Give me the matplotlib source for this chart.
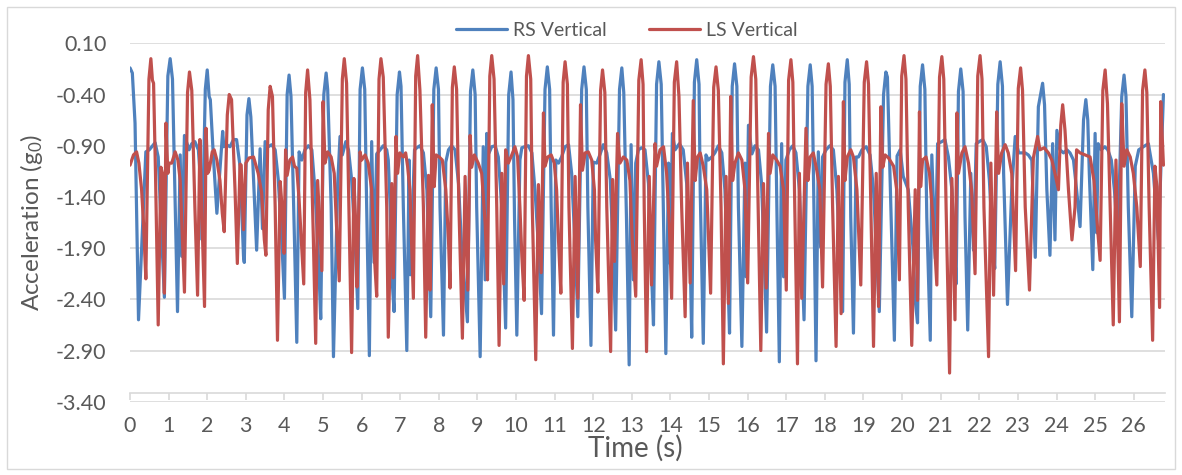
import matplotlib

matplotlib.use("Agg")
import matplotlib.pyplot as plt
from matplotlib.patches import Rectangle
from matplotlib.ticker import FixedLocator, FuncFormatter

plt.rcParams["font.family"] = ["Lato", "DejaVu Sans"]
plt.rcParams["mathtext.default"] = "regular"
plt.rcParams["axes.unicode_minus"] = False

# turning points, one line per stride (time s, acceleration g0)
rs_time = [
    0.00, 0.06, 0.13, 0.22, 0.41, 0.50, 0.65, 0.73, 0.89,
    0.98, 1.04, 1.10, 1.23, 1.30, 1.34, 1.41, 1.47, 1.53, 1.60, 1.68, 1.77, 1.84, 1.87,
    1.95, 2.00, 2.05, 2.08, 2.16, 2.25, 2.40, 2.43, 2.50, 2.59, 2.68, 2.76, 2.85, 2.94, 2.96,
    3.03, 3.08, 3.13, 3.28, 3.37, 3.43, 3.50, 3.58, 3.67, 3.76, 3.84, 3.93, 4.00,
    4.07, 4.12, 4.17, 4.26, 4.32, 4.38, 4.45, 4.53, 4.62, 4.71, 4.79, 4.88, 4.94,
    5.02, 5.08, 5.12, 5.21, 5.27, 5.38, 5.44, 5.50, 5.59, 5.66, 5.74, 5.83, 5.90,
    5.96, 6.02, 6.08, 6.13, 6.20, 6.26, 6.32, 6.39, 6.48, 6.56, 6.65, 6.69, 6.74, 6.78, 6.84,
    6.92, 6.98, 7.02, 7.08, 7.17, 7.23, 7.26, 7.37, 7.43, 7.51, 7.60, 7.69, 7.73, 7.79,
    7.87, 7.93, 7.99, 8.03, 8.12, 8.18, 8.25, 8.33, 8.42, 8.51, 8.59, 8.74,
    8.82, 8.88, 8.94, 8.98, 9.07, 9.15, 9.20, 9.24, 9.30, 9.37, 9.46, 9.54, 9.63, 9.73,
    9.81, 9.87, 9.92, 9.96, 10.02, 10.10, 10.15, 10.22, 10.32, 10.41, 10.49, 10.58, 10.66,
    10.75, 10.81, 10.87, 10.91, 10.97, 11.03, 11.10, 11.18, 11.27, 11.36, 11.44, 11.53, 11.60,
    11.70, 11.76, 11.82, 11.86, 11.94, 12.00, 12.09, 12.18, 12.26, 12.35, 12.44, 12.52, 12.58,
    12.68, 12.74, 12.79, 12.86, 12.93, 12.98, 13.04, 13.10, 13.17, 13.25, 13.34, 13.43, 13.51, 13.56,
    13.64, 13.70, 13.76, 13.80, 13.88, 13.95, 13.99, 14.05, 14.12, 14.23, 14.33, 14.42, 14.51, 14.55,
    14.62, 14.68, 14.74, 14.77, 14.85, 14.92, 14.98, 15.07, 15.15, 15.24, 15.33, 15.41, 15.47, 15.53,
    15.60, 15.66, 15.72, 15.76, 15.85, 15.93, 15.96, 16.02, 16.11, 16.19, 16.28, 16.36, 16.42, 16.49,
    16.59, 16.65, 16.71, 16.76, 16.82, 16.88, 16.93, 16.99, 17.08, 17.17, 17.25, 17.34, 17.40, 17.46,
    17.56, 17.62, 17.67, 17.72, 17.77, 17.83, 17.89, 17.94, 18.03, 18.13, 18.22, 18.31, 18.39, 18.46,
    18.52, 18.58, 18.63, 18.67, 18.74, 18.81, 18.87, 18.96, 19.07, 19.17, 19.26, 19.34, 19.41,
    19.52, 19.58, 19.62, 19.71, 19.80, 19.87, 19.95, 20.03, 20.16, 20.28, 20.34, 20.40,
    20.47, 20.53, 20.59, 20.64, 20.73, 20.77, 20.86, 20.92, 21.03, 21.11, 21.20, 21.29, 21.37, 21.40,
    21.46, 21.52, 21.58, 21.63, 21.70, 21.78, 21.85, 21.92, 22.00, 22.09, 22.18, 22.26, 22.37, 22.40,
    22.48, 22.54, 22.60, 22.63, 22.73, 22.84, 22.93, 23.02, 23.10, 23.19, 23.27, 23.36, 23.45, 23.53,
    23.64, 23.69, 23.75, 23.83, 23.90, 23.96, 24.01, 24.09, 24.18, 24.27, 24.35, 24.44, 24.52, 24.61,
    24.70, 24.76, 24.81, 24.85, 24.94, 25.00, 25.04, 25.08, 25.16, 25.25, 25.33, 25.42, 25.50, 25.59,
    25.69, 25.75, 25.80, 25.86, 25.95, 26.04, 26.13, 26.25, 26.38, 26.51, 26.64, 26.77,
]
rs_accel = [
    -0.14, -0.19, -0.68, -2.60, -0.96, -0.94, -0.87, -1.01, -2.38,
    -0.22, -0.05, -0.25, -2.52, -0.99, -1.98, -0.80, -0.87, -0.94, -0.88, -0.86, -0.94, -1.30, -1.82,
    -0.35, -0.16, -0.42, -0.45, -1.01, -1.56, -0.76, -0.91, -0.89, -0.91, -0.84, -0.84, -1.10, -1.98, -2.04,
    -0.60, -0.44, -0.62, -1.92, -0.93, -1.71, -0.86, -0.91, -0.89, -0.94, -1.23, -1.82, -2.39,
    -0.40, -0.21, -0.42, -1.82, -2.82, -0.96, -1.04, -0.94, -0.90, -0.94, -1.33, -1.98, -2.59,
    -0.40, -0.19, -0.35, -1.49, -2.96, -1.27, -0.81, -0.99, -0.86, -0.94, -1.23, -1.82, -2.49,
    -0.35, -0.14, -0.35, -1.49, -2.95, -0.86, -2.04, -0.98, -0.94, -0.90, -0.94, -1.04, -1.50, -2.15, -2.52,
    -0.40, -0.18, -0.32, -1.50, -2.90, -1.04, -2.16, -0.94, -0.92, -0.90, -0.97, -1.33, -1.82, -2.57,
    -0.35, -0.14, -0.35, -1.50, -2.75, -1.06, -0.94, -0.90, -0.94, -1.27, -1.89, -2.62,
    -0.37, -0.16, -0.40, -1.50, -2.96, -0.91, -2.21, -0.78, -0.97, -0.91, -0.90, -1.01, -1.50, -2.68,
    -0.40, -0.18, -0.45, -1.60, -2.75, -1.04, -0.92, -0.91, -0.90, -0.97, -1.33, -1.89, -2.54,
    -0.35, -0.13, -0.35, -1.50, -2.75, -1.04, -1.07, -1.01, -0.91, -0.89, -1.17, -1.89, -2.57,
    -0.35, -0.13, -0.35, -1.50, -2.85, -1.06, -1.07, -0.98, -0.89, -0.97, -1.23, -1.98, -2.70,
    -0.35, -0.14, -0.38, -1.60, -3.04, -0.89, -2.21, -1.07, -0.94, -0.92, -0.94, -1.27, -2.15, -2.65,
    -0.30, -0.08, -0.30, -1.17, -2.93, -1.07, -2.05, -0.78, -0.94, -0.88, -0.94, -1.27, -1.98, -2.77,
    -0.28, -0.06, -0.30, -1.33, -2.83, -0.99, -1.04, -1.01, -0.97, -0.90, -0.97, -1.33, -1.98, -2.73,
    -0.32, -0.10, -0.32, -1.50, -2.86, -1.07, -2.18, -0.70, -0.98, -0.90, -0.94, -1.27, -1.89, -2.72,
    -0.32, -0.11, -0.32, -1.60, -3.01, -0.88, -2.18, -1.04, -0.94, -0.90, -0.97, -1.33, -1.98, -2.60,
    -0.32, -0.11, -0.32, -1.60, -3.00, -0.96, -1.89, -1.01, -0.94, -0.90, -0.94, -1.33, -1.98, -2.52,
    -0.28, -0.06, -0.30, -1.60, -2.73, -1.01, -1.01, -0.94, -0.91, -0.99, -1.33, -1.98, -2.52,
    -0.40, -0.18, -0.23, -1.50, -2.80, -1.00, -0.94, -1.20, -1.33, -1.89, -2.41, -2.63,
    -0.32, -0.11, -0.35, -1.60, -2.80, -0.99, -2.00, -0.88, -0.86, -0.84, -1.01, -1.33, -1.98, -2.25,
    -0.37, -0.15, -0.37, -1.60, -2.70, -1.17, -1.92, -0.88, -0.86, -0.84, -0.91, -1.23, -1.98, -2.10,
    -0.30, -0.08, -0.32, -1.17, -2.45, -1.33, -0.81, -0.97, -0.97, -0.97, -0.99, -1.04, -1.99, -0.52,
    -0.29, -0.50, -1.33, -1.97, -0.88, -1.82, -0.75, -0.94, -0.97, -0.94, -0.97, -1.04, -1.33, -1.69,
    -0.65, -0.45, -0.65, -1.17, -2.11, -0.78, -1.75, -0.88, -0.94, -0.91, -0.94, -1.04, -1.33, -1.82,
    -0.42, -0.21, -0.42, -1.50, -2.57, -1.10, -0.94, -0.91, -0.88, -1.17, -1.82, -0.40,
]

ls_time = [
    0.00, 0.09, 0.17, 0.23, 0.30, 0.35, 0.41,
    0.49, 0.54, 0.58, 0.61, 0.66, 0.73, 0.80, 0.84, 0.89, 0.93, 0.98, 1.01, 1.08, 1.17, 1.24, 1.30, 1.36, 1.41,
    1.49, 1.54, 1.60, 1.68, 1.75, 1.81, 1.84, 1.93, 1.97, 2.01, 2.05, 2.13, 2.18, 2.25, 2.33, 2.39, 2.44,
    2.52, 2.57, 2.63, 2.72, 2.78, 2.85, 2.88, 2.94, 3.00, 3.08, 3.20, 3.32, 3.41, 3.48, 3.52,
    3.58, 3.63, 3.69, 3.76, 3.82, 3.89, 3.95, 3.99, 4.03, 4.07, 4.14, 4.21, 4.26, 4.32, 4.38, 4.45, 4.50,
    4.55, 4.60, 4.66, 4.75, 4.81, 4.86, 4.92, 4.97, 5.00, 5.05, 5.12, 5.21, 5.29, 5.35, 5.42,
    5.50, 5.55, 5.61, 5.67, 5.74, 5.80, 5.85, 5.88, 5.96, 6.00, 6.09, 6.17, 6.26, 6.33, 6.39,
    6.45, 6.50, 6.56, 6.65, 6.69, 6.78, 6.82, 6.89, 6.93, 6.99, 7.08, 7.14, 7.19, 7.25, 7.34,
    7.40, 7.45, 7.51, 7.60, 7.66, 7.73, 7.77, 7.83, 7.88, 7.93, 8.01, 8.09, 8.18, 8.25, 8.29,
    8.35, 8.40, 8.46, 8.52, 8.61, 8.68, 8.75, 8.81, 8.85, 8.92, 9.02, 9.11, 9.20, 9.26,
    9.32, 9.37, 9.43, 9.50, 9.56, 9.63, 9.68, 9.73, 9.80, 9.89, 9.97, 10.04, 10.10, 10.15, 10.21,
    10.27, 10.32, 10.38, 10.42, 10.51, 10.58, 10.65, 10.71, 10.75, 10.82, 10.91, 10.99, 11.05, 11.10, 11.16,
    11.22, 11.27, 11.33, 11.37, 11.46, 11.53, 11.60, 11.67, 11.72, 11.79, 11.87, 11.96, 12.03, 12.06, 12.12,
    12.19, 12.24, 12.30, 12.35, 12.45, 12.50, 12.55, 12.63, 12.69, 12.78, 12.87, 12.95, 13.01, 13.10,
    13.18, 13.24, 13.29, 13.32, 13.38, 13.45, 13.51, 13.60, 13.64, 13.73, 13.82, 13.90, 13.97, 14.03,
    14.10, 14.16, 14.22, 14.29, 14.38, 14.44, 14.51, 14.59, 14.64, 14.70, 14.77, 14.85, 14.94, 15.04,
    15.12, 15.18, 15.24, 15.31, 15.37, 15.44, 15.50, 15.56, 15.61, 15.67, 15.76, 15.85, 15.93, 16.00,
    16.09, 16.15, 16.21, 16.27, 16.34, 16.41, 16.48, 16.54, 16.58, 16.65, 16.75, 16.84, 16.93, 17.00,
    17.06, 17.12, 17.17, 17.22, 17.29, 17.34, 17.40, 17.51, 17.56, 17.62, 17.70, 17.79, 17.87, 17.94,
    18.03, 18.09, 18.14, 18.20, 18.29, 18.35, 18.42, 18.48, 18.52, 18.58, 18.67, 18.74, 18.83, 18.93,
    19.02, 19.08, 19.13, 19.19, 19.26, 19.33, 19.39, 19.45, 19.50, 19.56, 19.65, 19.78, 19.86, 19.93,
    19.99, 20.05, 20.10, 20.16, 20.25, 20.34, 20.40, 20.45, 20.48, 20.53, 20.62, 20.71, 20.81, 20.90,
    20.97, 21.03, 21.08, 21.14, 21.23, 21.29, 21.37, 21.42, 21.46, 21.55, 21.63, 21.72, 21.80, 21.89,
    21.96, 22.02, 22.07, 22.12, 22.24, 22.30, 22.37, 22.45, 22.50, 22.58, 22.67, 22.75, 22.84, 22.94,
    23.01, 23.07, 23.12, 23.19, 23.30, 23.40, 23.51, 23.57, 23.68, 23.79, 23.88, 23.96, 24.05,
    24.11, 24.16, 24.22, 24.31, 24.40, 24.48, 24.52, 24.61, 24.74, 24.87, 24.97, 25.06, 25.13,
    25.20, 25.26, 25.32, 25.39, 25.47, 25.54, 25.63, 25.69, 25.75, 25.82, 25.91, 25.99, 26.08, 26.17,
    26.23, 26.29, 26.34, 26.40, 26.49, 26.55, 26.60, 26.67, 26.70, 26.77,
]
ls_accel = [
    -1.09, -0.99, -0.96, -1.07, -1.33, -1.66, -2.20,
    -0.25, -0.05, -0.26, -0.29, -1.17, -2.65, -1.11, -1.17, -2.34, -0.68, -1.17, -1.07, -1.07, -0.96, -1.04, -1.24, -1.82, -2.33,
    -0.38, -0.18, -0.36, -1.50, -2.36, -0.84, -1.30, -2.47, -0.73, -1.17, -1.14, -0.96, -0.94, -1.04, -1.24, -1.56, -1.74,
    -0.60, -0.40, -0.45, -1.33, -2.05, -1.08, -1.09, -1.72, -1.07, -1.02, -1.01, -1.17, -1.36, -1.82, -1.97,
    -0.55, -0.32, -0.42, -1.50, -2.80, -1.25, -1.56, -1.95, -0.94, -1.19, -1.04, -1.01, -1.10, -1.12, -1.43, -1.92, -2.25,
    -0.38, -0.16, -0.45, -1.82, -2.83, -1.24, -1.72, -2.12, -0.47, -1.07, -0.96, -1.01, -1.17, -1.69, -2.22,
    -0.25, -0.05, -0.29, -1.50, -2.92, -1.22, -1.69, -2.28, -0.96, -1.04, -0.99, -1.07, -1.33, -1.98, -2.37,
    -0.25, -0.05, -0.23, -1.50, -2.77, -1.27, -2.19, -0.81, -1.17, -0.97, -1.01, -0.97, -1.10, -1.33, -2.39,
    -0.22, -0.02, -0.36, -1.50, -2.77, -1.19, -2.31, -0.50, -1.30, -0.99, -1.01, -1.04, -1.33, -1.82, -2.29,
    -0.33, -0.13, -0.35, -1.50, -2.78, -1.20, -2.31, -0.80, -1.11, -0.99, -1.07, -1.17, -1.66, -2.21,
    -0.22, -0.02, -0.25, -1.50, -2.85, -1.17, -2.25, -0.94, -1.07, -0.99, -0.91, -1.01, -1.50, -1.98, -2.41,
    -0.22, -0.02, -0.25, -1.50, -2.99, -1.28, -2.14, -0.58, -1.10, -1.01, -0.99, -1.07, -1.33, -1.82, -2.34,
    -0.28, -0.08, -0.30, -1.50, -2.88, -1.20, -2.39, -0.50, -1.14, -0.97, -0.96, -1.04, -1.33, -1.82, -2.33,
    -0.36, -0.16, -0.38, -1.50, -2.91, -1.23, -2.03, -0.78, -1.07, -1.01, -1.04, -1.24, -1.82, -2.37,
    -0.26, -0.06, -0.30, -1.50, -2.91, -1.20, -2.26, -0.88, -1.10, -0.94, -0.91, -1.17, -1.66, -2.39,
    -0.28, -0.08, -0.42, -1.50, -2.57, -1.07, -2.24, -0.46, -1.24, -1.01, -0.97, -1.10, -1.33, -2.34,
    -0.33, -0.13, -0.36, -1.50, -3.03, -1.20, -2.44, -0.42, -1.24, -1.07, -0.97, -1.04, -1.33, -2.24,
    -0.23, -0.03, -0.25, -1.50, -2.90, -1.27, -2.29, -0.78, -1.17, -0.99, -1.04, -1.10, -1.33, -2.31,
    -0.26, -0.06, -0.28, -1.50, -3.03, -1.17, -2.39, -0.73, -1.24, -1.01, -0.97, -1.14, -1.33, -2.28,
    -0.30, -0.10, -0.32, -1.50, -2.86, -1.20, -2.54, -0.47, -1.24, -1.01, -0.94, -1.01, -1.33, -2.26,
    -0.28, -0.08, -0.30, -1.50, -2.86, -1.17, -2.47, -0.52, -1.11, -0.99, -1.02, -1.10, -1.33, -2.21,
    -0.22, -0.02, -0.25, -1.50, -2.85, -1.33, -2.41, -0.57, -1.30, -1.04, -1.01, -1.17, -1.66, -2.26,
    -0.23, -0.03, -0.25, -1.50, -3.12, -1.22, -2.60, -0.58, -1.17, -0.97, -0.91, -1.07, -1.33, -2.15,
    -0.22, -0.02, -0.25, -1.50, -2.96, -1.07, -2.36, -0.57, -1.17, -0.97, -0.89, -0.97, -1.17, -2.12,
    -0.34, -0.14, -0.36, -1.50, -2.31, -1.02, -0.81, -0.94, -0.92, -0.97, -1.04, -1.17, -1.33,
    -0.70, -0.50, -0.75, -1.33, -1.82, -1.50, -0.94, -0.97, -0.99, -1.01, -1.24, -1.69, -2.02,
    -0.36, -0.16, -0.49, -1.50, -2.65, -1.04, -2.62, -0.49, -1.10, -0.94, -1.01, -1.17, -1.50, -2.08,
    -0.36, -0.16, -0.38, -1.50, -2.80, -1.10, -1.30, -2.48, -0.47, -1.09,
]

x_ticks = list(range(0, 27))
y_ticks = [0.10, -0.40, -0.90, -1.40, -1.90, -2.40, -2.90, -3.40]

BLUE = "#4F81BD"
RED = "#C0504D"
GRID = "#D9D9D9"
TEXT = "#595959"

fig = plt.figure(figsize=(11.82, 4.75), dpi=100)
fig.patches.append(Rectangle((0.006, 0.012), 0.988, 0.973, transform=fig.transFigure,
                             fill=False, edgecolor=GRID, linewidth=1.0))
ax = fig.add_axes([0.110, 0.1543, 0.8756, 0.7545])

ax.plot(rs_time, rs_accel, color=BLUE, linewidth=2.3, label="RS Vertical", zorder=3,
        solid_joinstyle="round", solid_capstyle="round")
ax.plot(ls_time, ls_accel, color=RED, linewidth=2.3, label="LS Vertical", zorder=4,
        solid_joinstyle="round", solid_capstyle="round")

ax.set_xlim(0, 26.81)
ax.set_ylim(-3.40, 0.10)
ax.yaxis.set_major_locator(FixedLocator(y_ticks))
ax.yaxis.set_major_formatter(FuncFormatter(lambda v, _: f"{v:.2f}"))
ax.xaxis.set_major_locator(FixedLocator(x_ticks))
ax.grid(axis="y", color=GRID, linewidth=1.2)
ax.set_axisbelow(True)
for side in ("left", "right", "top"):
    ax.spines[side].set_visible(False)
ax.spines["bottom"].set_position(("data", -3.318))
ax.spines["bottom"].set_color(GRID)
ax.spines["bottom"].set_linewidth(1.2)
ax.tick_params(axis="x", direction="out", length=5, width=1.2, color=GRID,
               labelsize=15.5, labelcolor=TEXT, pad=11)
ax.tick_params(axis="y", length=0, labelsize=15.5, labelcolor=TEXT, pad=17)

ax.set_xlabel("Time (s)", fontsize=20, color=TEXT)
ax.xaxis.set_label_coords(0.488, -0.092)
ax.set_ylabel("Acceleration (g$_0$)", fontsize=17.5, color=TEXT)
ax.yaxis.set_label_coords(-0.082, 0.5)

ax.legend(loc="center", bbox_to_anchor=(0.48, 1.037), ncol=2, frameon=False,
          fontsize=14, handlelength=2.6, columnspacing=2.2, handletextpad=0.3,
          labelcolor=TEXT)

fig.savefig("out.png", dpi=100)
